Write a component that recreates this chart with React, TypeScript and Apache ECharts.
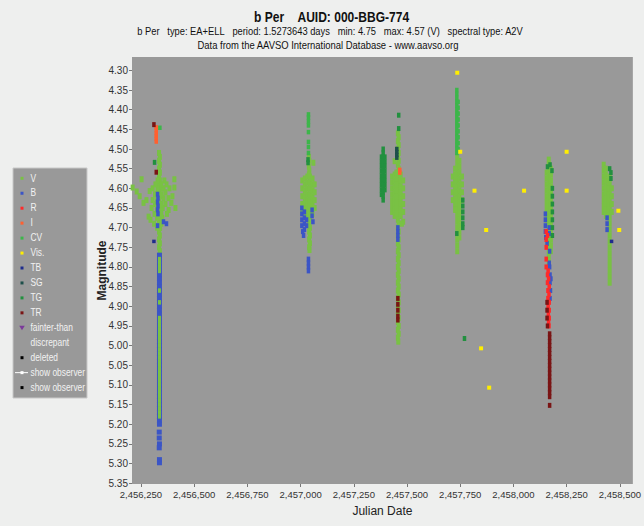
import { useEffect, useRef } from 'react';
import * as echarts from 'echarts';

const FONT = '"Liberation Sans", Arial, sans-serif';
const NB = '\u00a0';

const titleText = `b Per${NB}${NB}${NB}${NB}AUID: 000-BBG-774`;
const subtitleText = `b Per${NB}${NB}${NB}type: EA+ELL${NB}${NB}${NB}period: 1.5273643 days${NB}${NB}${NB}min: 4.75${NB}${NB}${NB}max: 4.57 (V)${NB}${NB}${NB}spectral type: A2V`;
const sourceText = 'Data from the AAVSO International Database - www.aavso.org';

const xTicks = [2456250, 2456500, 2456750, 2457000, 2457250, 2457500, 2457750, 2458000, 2458250, 2458500];
const yTicks = [4.30, 4.35, 4.40, 4.45, 4.50, 4.55, 4.60, 4.65, 4.70, 4.75, 4.80, 4.85, 4.90, 4.95, 5.00, 5.05, 5.10, 5.15, 5.20, 5.25, 5.30, 5.35];

const legendNames = ['V', 'B', 'R', 'I', 'CV', 'Vis.', 'TB', 'SG', 'TG', 'TR', 'fainter-than', 'discrepant', 'deleted', 'show observer', 'show observer'];
const legendColors = ['#79c144', '#3b55c6', '#ff2a2a', '#ff6030', '#3cb64a', '#ffee00', '#1f2c8c', '#1d4f4a', '#22903f', '#7a1414', '#7b3a9a', '', '#000000', '#ffffff', '#000000'];
const legendKinds = ['sq', 'sq', 'sq', 'sq', 'sq', 'sq', 'sq', 'sq', 'sq', 'sq', 'tri', 'none', 'sq', 'line', 'sq'];

type P = [number, number];

const vPoints: P[] = [
  // cluster 1 column
  [2456335,4.51],[2456339,4.52],[2456335,4.53],[2456339,4.54],[2456335,4.55],[2456339,4.56],[2456335,4.57],[2456339,4.58],[2456335,4.59],[2456339,4.60],
  [2456335,4.61],[2456339,4.62],[2456335,4.63],[2456339,4.64],[2456335,4.65],[2456339,4.66],[2456335,4.67],[2456339,4.68],[2456335,4.69],[2456339,4.70],
  [2456335,4.71],[2456339,4.72],[2456335,4.73],[2456339,4.74],[2456335,4.75],[2456339,4.76],
  // cluster 1 blob
  [2456211,4.598],[2456253,4.577],[2456230,4.608],[2456244,4.62],[2456262,4.637],[2456276,4.63],[2456291,4.607],[2456286,4.672],[2456295,4.68],
  [2456407,4.577],[2456407,4.598],[2456398,4.62],[2456412,4.65],[2456393,4.637],[2456384,4.60],[2456379,4.625],[2456370,4.59],[2456365,4.61],
  [2456365,4.64],[2456360,4.58],[2456356,4.60],[2456356,4.625],[2456352,4.65],[2456350,4.675],[2456346,4.59],[2456346,4.615],[2456346,4.64],
  [2456346,4.665],[2456346,4.69],[2456328,4.58],[2456328,4.60],[2456326,4.625],[2456326,4.65],[2456326,4.675],[2456326,4.70],[2456318,4.59],
  [2456316,4.615],[2456316,4.64],[2456314,4.665],[2456305,4.60],[2456305,4.63],[2456300,4.65],[2456312,4.69],[2456340,4.70],[2456380,4.655],[2456372,4.665],
  // cluster 2
  [2457039,4.52],[2457041,4.53],[2457039,4.545],[2457041,4.555],[2457039,4.565],[2457060,4.535],
  [2457008,4.58],[2457008,4.60],[2457008,4.62],[2457008,4.64],[2457008,4.66],
  [2457020,4.575],[2457020,4.59],[2457020,4.605],[2457020,4.62],[2457020,4.635],[2457020,4.65],[2457020,4.665],
  [2457032,4.57],[2457032,4.585],[2457032,4.60],[2457032,4.615],[2457032,4.63],[2457032,4.645],[2457032,4.66],[2457032,4.675],
  [2457044,4.57],[2457044,4.585],[2457044,4.60],[2457044,4.615],[2457044,4.63],[2457044,4.645],[2457044,4.66],[2457044,4.675],
  [2457056,4.575],[2457056,4.59],[2457056,4.605],[2457056,4.62],[2457056,4.635],[2457056,4.65],[2457056,4.665],
  [2457066,4.59],[2457066,4.61],[2457066,4.63],[2457066,4.65],
  [2457040,4.69],[2457044,4.70],[2457040,4.71],[2457044,4.72],[2457040,4.73],[2457044,4.74],[2457040,4.75],[2457042,4.757],
  // cluster 3
  [2457457,4.46],[2457461,4.47],[2457457,4.48],[2457461,4.49],[2457457,4.50],[2457461,4.51],[2457457,4.52],[2457461,4.53],[2457457,4.54],[2457461,4.55],
  [2457457,4.56],[2457461,4.57],[2457457,4.58],[2457461,4.59],[2457457,4.60],[2457461,4.61],[2457457,4.62],[2457461,4.63],[2457457,4.64],[2457461,4.65],
  [2457457,4.66],[2457461,4.67],[2457457,4.68],[2457461,4.69],[2457457,4.70],[2457461,4.71],[2457457,4.72],[2457461,4.73],[2457457,4.74],[2457461,4.75],
  [2457457,4.76],[2457461,4.77],[2457457,4.78],[2457461,4.79],[2457457,4.80],[2457461,4.81],[2457457,4.82],[2457461,4.83],[2457457,4.84],[2457461,4.85],
  [2457457,4.86],[2457461,4.87],[2457457,4.88],[2457461,4.89],[2457457,4.90],[2457461,4.91],[2457457,4.92],[2457461,4.93],[2457457,4.94],[2457461,4.95],
  [2457457,4.96],[2457461,4.97],[2457457,4.98],[2457459,4.99],
  [2457430,4.57],[2457430,4.585],[2457430,4.60],[2457430,4.615],[2457430,4.63],[2457430,4.645],[2457430,4.66],
  [2457442,4.565],[2457442,4.58],[2457442,4.595],[2457442,4.61],[2457442,4.625],[2457442,4.64],[2457442,4.655],[2457442,4.67],
  [2457450,4.56],[2457450,4.575],[2457450,4.59],[2457450,4.605],[2457450,4.62],[2457450,4.635],[2457450,4.65],[2457450,4.665],
  [2457470,4.565],[2457470,4.58],[2457470,4.595],[2457470,4.61],[2457470,4.625],[2457470,4.64],[2457470,4.655],[2457470,4.67],
  [2457482,4.58],[2457482,4.60],[2457482,4.62],[2457482,4.64],[2457482,4.66],[2457482,4.685],
  [2457442,4.531],[2457476,4.69],
  // cluster 4
  [2457715,4.57],[2457715,4.59],[2457715,4.61],[2457715,4.63],
  [2457726,4.55],[2457726,4.565],[2457726,4.58],[2457726,4.595],[2457726,4.61],[2457726,4.625],[2457726,4.64],[2457726,4.655],
  [2457736,4.52],[2457736,4.535],[2457736,4.55],[2457736,4.565],[2457736,4.58],[2457736,4.595],[2457736,4.61],[2457736,4.625],[2457736,4.64],
  [2457736,4.655],[2457736,4.67],[2457736,4.685],[2457736,4.70],[2457736,4.715],[2457736,4.73],[2457736,4.745],[2457736,4.76],
  [2457746,4.53],[2457746,4.545],[2457746,4.56],[2457746,4.575],[2457746,4.59],[2457746,4.605],[2457746,4.62],[2457746,4.635],[2457746,4.65],
  [2457746,4.665],[2457746,4.68],[2457746,4.695],[2457746,4.71],[2457746,4.725],
  [2457758,4.57],[2457758,4.59],[2457758,4.61],[2457758,4.63],
  // cluster 5
  [2458156,4.56],[2458156,4.575],[2458156,4.59],[2458156,4.605],[2458156,4.62],[2458156,4.635],[2458156,4.65],[2458156,4.665],[2458156,4.68],
  [2458166,4.527],[2458166,4.54],[2458166,4.555],[2458166,4.57],[2458166,4.585],[2458166,4.60],[2458166,4.615],[2458166,4.63],[2458166,4.645],
  [2458166,4.66],[2458166,4.675],[2458166,4.69],[2458166,4.705],[2458166,4.72],[2458166,4.735],[2458166,4.75],[2458166,4.765],[2458166,4.78],[2458166,4.79],
  [2458176,4.55],[2458176,4.565],[2458176,4.58],[2458176,4.595],[2458176,4.61],[2458176,4.625],[2458176,4.64],[2458176,4.655],[2458176,4.67],
  [2458176,4.685],[2458176,4.70],[2458176,4.715],[2458176,4.73],[2458176,4.745],[2458176,4.76],
  // cluster 6
  [2458424,4.54],[2458424,4.555],[2458424,4.57],[2458424,4.585],[2458424,4.60],[2458424,4.615],[2458424,4.63],[2458424,4.645],[2458424,4.66],
  [2458434,4.55],[2458434,4.565],[2458434,4.58],[2458434,4.595],[2458434,4.61],[2458434,4.625],[2458434,4.64],[2458434,4.655],[2458434,4.67],
  [2458446,4.58],[2458446,4.595],[2458446,4.61],[2458446,4.625],[2458446,4.64],[2458446,4.655],[2458446,4.67],
  [2458452,4.57],[2458452,4.585],[2458452,4.60],[2458452,4.615],[2458452,4.63],[2458452,4.645],[2458452,4.66],[2458452,4.675],[2458452,4.69],
  [2458452,4.705],[2458452,4.72],[2458452,4.735],[2458452,4.75],[2458452,4.765],[2458452,4.78],[2458452,4.795],[2458452,4.81],[2458452,4.825],[2458452,4.84],
  [2458462,4.60],[2458462,4.62],[2458462,4.64],[2458462,4.66],
];

// V points of the long cluster-1 tail, drawn over the B column
const vTailPoints: P[] = [
  [2456337,4.78],[2456337,4.79],[2456337,4.80],[2456337,4.81],[2456337,4.86],[2456337,4.89],
  [2456337,4.93],[2456337,4.94],[2456337,4.95],[2456337,4.96],[2456337,4.97],[2456337,4.98],[2456337,4.99],[2456337,5.00],[2456337,5.01],[2456337,5.02],
  [2456337,5.03],[2456337,5.04],[2456337,5.05],[2456337,5.06],[2456337,5.07],[2456337,5.08],[2456337,5.09],[2456337,5.10],[2456337,5.11],[2456337,5.12],
  [2456337,5.13],[2456337,5.14],[2456337,5.15],[2456337,5.16],[2456337,5.17],[2456337,5.18],
];

const cvPoints: P[] = [
  [2456339,4.446],
  [2457037,4.412],[2457037,4.42],[2457037,4.43],[2457037,4.44],[2457037,4.457],[2457037,4.482],[2457037,4.495],[2457037,4.51],
  [2457734,4.35],[2457734,4.36],[2457734,4.37],[2457734,4.38],[2457734,4.39],[2457734,4.40],[2457734,4.41],[2457734,4.42],[2457734,4.43],
  [2457734,4.44],[2457734,4.45],[2457734,4.46],[2457734,4.47],[2457734,4.48],[2457734,4.49],[2457734,4.50],[2457734,4.51],
  [2457740,4.38],[2457740,4.395],[2457740,4.41],[2457740,4.425],[2457740,4.44],[2457740,4.455],[2457740,4.47],[2457740,4.485],[2457740,4.50],
];

// B column of cluster 1 (JD ~2456337)
const bColumnPoints: P[] = [
  [2456337,4.77],[2456337,4.78],[2456337,4.79],[2456337,4.80],[2456337,4.81],[2456337,4.82],[2456337,4.83],[2456337,4.84],[2456337,4.85],[2456337,4.86],
  [2456337,4.87],[2456337,4.88],[2456337,4.89],[2456337,4.90],[2456337,4.91],[2456337,4.92],[2456337,4.93],[2456337,4.94],[2456337,4.95],[2456337,4.96],
  [2456337,4.97],[2456337,4.98],[2456337,4.99],[2456337,5.00],[2456337,5.01],[2456337,5.02],[2456337,5.03],[2456337,5.04],[2456337,5.05],[2456337,5.06],
  [2456337,5.07],[2456337,5.08],[2456337,5.09],[2456337,5.10],[2456337,5.11],[2456337,5.12],[2456337,5.13],[2456337,5.14],[2456337,5.15],[2456337,5.16],
  [2456337,5.17],[2456337,5.18],[2456337,5.19],[2456337,5.20],[2456336,5.22],[2456336,5.235],[2456337,5.25],[2456336,5.26],
  [2456337,5.29],[2456337,5.298],
];

const bPoints: P[] = [
  // cluster 1
  [2456328,4.615],[2456330,4.625],[2456328,4.635],[2456330,4.645],[2456328,4.655],[2456330,4.665],
  [2456356,4.685],[2456370,4.69],[2456328,4.695],
  // cluster 2
  [2457006,4.65],[2457006,4.665],[2457006,4.68],[2457006,4.695],[2457010,4.71],[2457014,4.72],[2457018,4.66],[2457018,4.675],[2457018,4.69],[2457018,4.705],
  [2457028,4.68],[2457028,4.695],[2457054,4.655],[2457054,4.67],[2457058,4.685],
  [2457037,4.78],[2457037,4.79],[2457037,4.80],[2457037,4.81],
  // cluster 3
  [2457457,4.70],[2457457,4.71],[2457457,4.72],[2457457,4.73],
  // cluster 5
  [2458150,4.665],[2458150,4.68],[2458150,4.695],[2458150,4.71],[2458152,4.725],[2458158,4.74],[2458168,4.70],[2458168,4.715],
  [2458170,4.76],[2458168,4.79],[2458170,4.80],[2458172,4.82],[2458176,4.83],[2458172,4.84],[2458174,4.86],[2458172,4.88],
  // cluster 6
  [2458440,4.675],[2458440,4.69],[2458440,4.705],
];

const tbPoints: P[] = [[2456311,4.735],[2458461,4.735]];

const sgPoints: P[] = [[2457452,4.50],[2457452,4.508],[2457452,4.515],[2457452,4.522]];

const tgPoints: P[] = [
  [2456314,4.534],
  [2457035,4.527],[2457035,4.535],
  [2457380,4.52],[2457380,4.532],[2457380,4.544],[2457380,4.556],[2457380,4.568],[2457380,4.58],[2457380,4.592],[2457380,4.604],[2457380,4.616],
  [2457388,4.50],[2457388,4.51],[2457388,4.52],[2457388,4.53],[2457388,4.54],[2457388,4.55],[2457388,4.56],[2457388,4.57],[2457388,4.58],
  [2457388,4.59],[2457388,4.60],[2457388,4.61],[2457388,4.62],[2457388,4.63],
  [2457396,4.52],[2457396,4.532],[2457396,4.544],[2457396,4.556],[2457396,4.568],[2457396,4.58],[2457396,4.592],[2457396,4.604],
  [2457461,4.414],[2457461,4.448],
  [2457762,4.63],[2457762,4.645],[2457762,4.66],[2457762,4.675],[2457762,4.69],[2457762,4.70],[2457734,4.715],[2457770,4.982],
  [2458160,4.545],[2458172,4.54],[2458181,4.555],[2458183,4.60],[2458183,4.62],[2458183,4.64],[2458183,4.66],[2458183,4.68],[2458183,4.70],[2458183,4.72],
  [2458452,4.55],[2458458,4.56],[2458458,4.575],
];

const rPoints: P[] = [
  [2458154,4.71],[2458154,4.73],[2458154,4.75],[2458154,4.78],[2458154,4.80],[2458160,4.72],[2458163,4.81],
  [2458160,4.82],[2458165,4.83],[2458160,4.84],[2458168,4.85],[2458162,4.86],[2458167,4.87],[2458162,4.88],[2458168,4.89],
  [2458163,4.90],[2458168,4.91],[2458164,4.92],[2458168,4.93],[2458165,4.94],[2458167,4.95],
];

const iPoints: P[] = [
  [2456322,4.445],[2456322,4.452],[2456322,4.46],[2456322,4.467],[2456322,4.474],[2456322,4.481],
  [2457466,4.553],[2457466,4.56],
];

const trPoints: P[] = [
  [2456311,4.438],[2456322,4.559],
  [2457457,4.88],[2457457,4.895],[2457457,4.91],[2457457,4.925],[2457457,4.935],
  [2458158,4.89],[2458158,4.91],[2458158,4.93],[2458160,4.95],
  [2458170,4.97],[2458170,4.98],[2458170,4.99],[2458170,5.00],[2458170,5.01],[2458170,5.02],[2458170,5.03],[2458170,5.04],[2458170,5.05],
  [2458170,5.06],[2458170,5.07],[2458170,5.08],[2458170,5.09],[2458170,5.10],[2458170,5.11],[2458170,5.12],[2458170,5.13],[2458170,5.152],
];

const visPoints: P[] = [
  [2457736,4.306],[2457750,4.507],[2457817,4.606],[2457872,4.706],[2457848,5.007],[2457886,5.107],
  [2458050,4.606],[2458250,4.507],[2458250,4.606],[2458493,4.657],[2458497,4.706],
];

const X_MIN = 2456208;
const X_MAX = 2458561;
const Y_MIN = 4.266;
const Y_MAX = 5.352;

function scatter(name: string, data: P[], color: string, size: number | number[]) {
  return {
    type: 'scatter',
    name,
    data,
    symbol: 'rect',
    symbolSize: size,
    itemStyle: { color, opacity: 1 },
    silent: true,
  };
}

function legendGraphics() {
  const els: any[] = [
    { type: 'rect', shape: { x: 13, y: 168, width: 74, height: 230 }, style: { fill: '#999999', stroke: '#c8c8c8', lineWidth: 1 } },
  ];
  legendNames.forEach((name, i) => {
    const y = 178.3 + i * 14.95;
    const kind = legendKinds[i];
    const color = legendColors[i];
    if (kind === 'sq') {
      els.push({ type: 'rect', shape: { x: 20.5, y: y - 1.5, width: 3, height: 3 }, style: { fill: color } });
    } else if (kind === 'tri') {
      els.push({ type: 'polygon', shape: { points: [[19.2, y - 2], [24.8, y - 2], [22, y + 2.5]] }, style: { fill: color } });
    } else if (kind === 'line') {
      els.push({ type: 'line', shape: { x1: 15, y1: y, x2: 28, y2: y }, style: { stroke: color, lineWidth: 1 } });
      els.push({ type: 'rect', shape: { x: 20.5, y: y - 1.5, width: 3, height: 3 }, style: { fill: color } });
    }
    els.push({
      type: 'text', x: 30.5, y, scaleX: 0.84,
      style: { text: name, fill: '#f2f2f2', fontSize: 10, fontFamily: FONT, verticalAlign: 'middle', align: 'left' },
    });
  });
  return els;
}

export default function App() {
  const ref = useRef<HTMLDivElement>(null);
  useEffect(() => {
    const chart = echarts.init(ref.current!, null, { renderer: 'svg' });
    chart.setOption({
      animation: false,
      backgroundColor: '#eeefee',
      grid: { left: 132, right: 7, top: 57, bottom: 42, show: true, backgroundColor: '#999999', borderWidth: 0 },
      xAxis: {
        type: 'value',
        min: X_MIN,
        max: X_MAX,
        name: 'Julian Date',
        nameLocation: 'middle',
        nameGap: 21,
        nameTextStyle: { fontFamily: FONT, fontSize: 12, color: '#222' },
        axisLine: { show: false },
        splitLine: { show: false },
        axisTick: { show: true, length: 3, lineStyle: { color: '#777' }, customValues: xTicks },
        axisLabel: {
          customValues: xTicks,
          fontFamily: FONT, fontSize: 9.5, color: '#333', margin: 5,
          formatter: (v: number) => Math.round(v).toLocaleString('en-US'),
        },
      },
      yAxis: {
        type: 'value',
        inverse: true,
        min: Y_MIN,
        max: Y_MAX,
        name: 'Magnitude',
        nameLocation: 'middle',
        nameGap: 24,
        nameMoveOverlap: false,
        nameRotate: 90,
        nameTextStyle: { fontFamily: FONT, fontSize: 12, fontWeight: 'bold', color: '#222' },
        axisLine: { show: false },
        splitLine: { show: false },
        axisTick: { show: true, length: 3, lineStyle: { color: '#777' }, customValues: yTicks },
        axisLabel: {
          customValues: yTicks,
          fontFamily: FONT, fontSize: 10, color: '#333', margin: 4,
          formatter: (v: number) => v.toFixed(2),
        },
      },
      graphic: [
        { type: 'text', x: 254, y: 17, scaleX: 0.86, style: { text: titleText, fill: '#111', fontSize: 14, fontWeight: 'bold', fontFamily: FONT, align: 'left', verticalAlign: 'middle' } },
        { type: 'text', x: 330, y: 31.5, scaleX: 0.89, style: { text: subtitleText, fill: '#111', fontSize: 10.5, fontFamily: FONT, align: 'center', verticalAlign: 'middle' } },
        { type: 'text', x: 328, y: 45, scaleX: 0.9, style: { text: sourceText, fill: '#111', fontSize: 10.5, fontFamily: FONT, align: 'center', verticalAlign: 'middle' } },
        ...legendGraphics(),
      ],
      series: [
        scatter('V', vPoints, '#79c144', [4, 6]),
        scatter('CV', cvPoints, '#3cb64a', [3.5, 4.5]),
        scatter('B', bPoints, '#3b55c6', [3.5, 5]),
        scatter('B', bColumnPoints, '#3b55c6', [5, 5]),
        scatter('V', vTailPoints, '#79c144', [3, 4.5]),
        scatter('TB', tbPoints, '#1f2c8c', 3.5),
        scatter('SG', sgPoints, '#1d4f4a', [3.5, 4.5]),
        scatter('TG', tgPoints, '#22903f', [3.5, 5]),
        scatter('R', rPoints, '#ff2a2a', [3.5, 5]),
        scatter('I', iPoints, '#ff6030', [3.5, 4.5]),
        scatter('TR', trPoints, '#7a1414', [3.5, 5]),
        scatter('Vis.', visPoints, '#ffee00', 4),
      ],
    });
    return () => chart.dispose();
  }, []);
  return <div ref={ref} style={{ position: 'fixed', left: 0, top: 0, width: 644, height: 526 }} />;
}
